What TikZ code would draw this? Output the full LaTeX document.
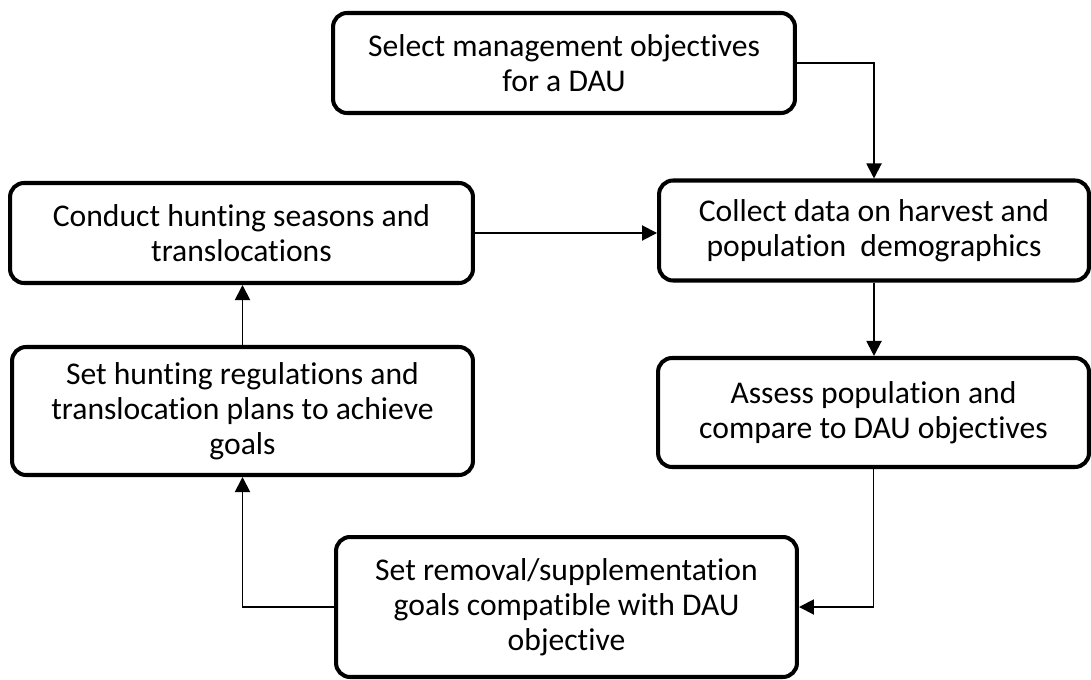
\documentclass[tikz,border=0pt]{standalone}
\usepackage{fontspec}
\setmainfont{Carlito}[Ligatures=NoCommon]
\usepackage{tikz}
\usetikzlibrary{arrows.meta,calc,positioning,shapes}

\begin{document}
\begin{tikzpicture}[x=0.02cm, y=-0.02cm,
		box/.style={rectangle, rounded corners=0.28cm, draw, line width=2.3pt, align=center,
			inner sep=2pt, font=\fontsize{18}{20}\selectfont},
		arr/.style={->, line width=1.1pt},
		>={Triangle[length=0.3cm, width=0.3cm]}
		]
	\useasboundingbox (0,0) rectangle (1091,679);

	\node[box, minimum width=9.24cm, minimum height=2.0cm] (Sel) at (564, 63) {Select management objectives\\for a DAU};
	\node[box, minimum width=8.6cm, minimum height=2.0cm] (Col) at (874, 230.5) {Collect data on harvest and\\population\ \ demographics};
	\node[box, minimum width=9.26cm, minimum height=2.0cm] (Con) at (241.5, 233) {Conduct hunting seasons and\\translocations};
	\node[box, minimum width=8.62cm, minimum height=2.18cm] (Ass) at (873.5, 412.5) {Assess population and\\compare to DAU objectives};
	\node[box, minimum width=9.22cm, minimum height=2.56cm] (Reg) at (242.5, 411) {Set hunting regulations and\\translocation plans to achieve\\goals};
	\node[box, minimum width=9.22cm, minimum height=2.8cm] (Rem) at (566.5, 607) {Set removal/supplementation\\goals compatible with DAU\\objective};

	\draw[arr] (Sel.east) -| (Col.north);
	\draw[arr] (Con.east) -- (Con.east -| Col.west);
	\draw[arr] (Col.south) -- (Col.south |- Ass.north);
	\draw[arr] (Ass.south) |- (Rem.east);
	\draw[arr] (Rem.west) -| (Reg.south);
	\draw[arr] (Reg.north) -- (Reg.north |- Con.south);

\end{tikzpicture}
\end{document}
